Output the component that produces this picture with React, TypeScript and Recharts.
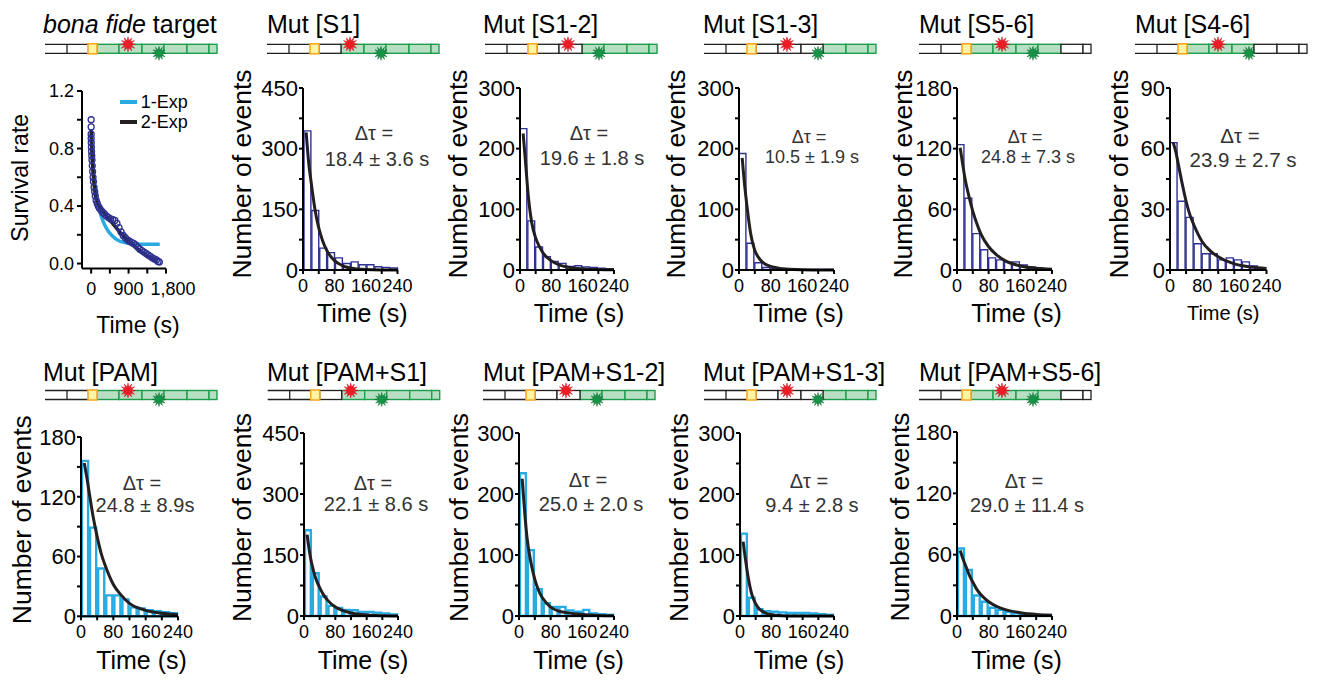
import React from "react";
import { ComposedChart, Bar, Line, Scatter, XAxis, YAxis, Legend } from "recharts";

const FONT = '"Liberation Sans", Arial, Helvetica, sans-serif';
const NAVY = "#2e3192";
const SKY = "#29abe2";
const FIT_COLOR = "#231f20";

// dwell-time histograms: 20 s bins, each value sits on the bin centre
const BIN_T = [10, 30, 50, 70, 90, 110, 130, 150, 170, 190, 210, 230];
const FIT_T = [8, 15, 20, 30, 40, 50, 60, 80, 100, 120, 160, 200, 240];
const HIST_X_TICKS = [0, 40, 80, 120, 160, 200, 240];

const CNT_S1 = [344, 147, 54, 43, 30, 16, 20, 13, 13, 8, 6, 5];
const FIT_S1 = [340, 260, 222, 152, 104, 72, 49, 23, 11, 5, 1, 0.2, 0];
const CNT_S12 = [233, 81, 38, 22, 14, 11, 6, 7, 5, 4, 3, 2];
const FIT_S12 = [225, 171, 130, 78, 53, 38, 27, 15, 8.5, 5, 1.8, 0.7, 0.3];
const CNT_S13 = [192, 44, 12, 4, 2, 1, 1, 1, 1, 1, 1, 1];
const FIT_S13 = [185, 135, 106, 58, 32, 20, 12.5, 6, 3, 1.5, 0.4, 0.1, 0];
const CNT_S56 = [124, 71, 36, 20, 12, 10, 8, 8, 5, 3, 2, 1];
const FIT_S56 = [121, 103, 91, 73, 58, 46, 36, 23, 15, 9.5, 4, 1.7, 0.7];
const CNT_S46 = [63, 34, 26, 13, 8, 8, 5, 6, 5, 4, 2, 1];
const FIT_S46 = [63, 58, 53, 43, 34, 27, 22, 14, 9.5, 6.5, 3, 1.5, 0.8];
const CNT_PAM = [156, 89, 48, 21, 21, 17, 9, 8, 6, 5, 4, 3];
const FIT_PAM = [154, 138, 125, 100, 80, 63, 51, 32, 21, 13, 6, 3, 1.5];
const CNT_PAM_S1 = [211, 105, 48, 25, 20, 15, 14, 10, 10, 8, 6, 4];
const FIT_PAM_S1 = [200, 152, 128, 92, 70, 52, 39, 22, 13, 7.5, 2.5, 0.8, 0.3];
const CNT_PAM_S12 = [234, 108, 44, 21, 15, 15, 9, 7, 10, 4, 3, 2];
const FIT_PAM_S12 = [225, 165, 130, 88, 60, 41, 29, 14.5, 8, 5.5, 2.5, 1, 0.5];
const CNT_PAM_S13 = [135, 30, 11, 8, 7, 6, 5, 5, 5, 4, 3, 2];
const FIT_PAM_S13 = [122, 88, 67, 36, 20, 11, 6.5, 2, 0.7, 0.2, 0, 0, 0];
const CNT_PAM_S56 = [66, 45, 20, 14, 8, 6, 4, 3, 2, 2, 1, 1];
const FIT_PAM_S56 = [64, 56, 51, 41, 33, 26, 21, 14, 9.5, 6.5, 3.2, 1.5, 0.7];

// bona fide target survival curve
const SURV_T = [0, 0, 0, 0, 3, 6, 10, 15, 20, 27, 35, 45, 55, 70, 85, 100, 120, 145, 170, 200, 240, 280, 320, 370, 420, 470, 520, 570, 620, 670, 720, 770, 820, 870, 920, 970, 1020, 1070, 1120, 1170, 1220, 1270, 1320, 1370, 1420, 1470, 1520, 1570, 1610, 1640];
const SURV_Y = [1.0, 0.95, 0.9, 0.87, 0.84, 0.81, 0.78, 0.75, 0.72, 0.68, 0.64, 0.6, 0.57, 0.53, 0.5, 0.47, 0.44, 0.42, 0.4, 0.385, 0.37, 0.355, 0.345, 0.33, 0.32, 0.31, 0.305, 0.3, 0.28, 0.25, 0.22, 0.195, 0.18, 0.165, 0.155, 0.148, 0.14, 0.13, 0.115, 0.1, 0.09, 0.08, 0.07, 0.06, 0.05, 0.04, 0.032, 0.025, 0.015, 0.01];
const EXP1_T = [0, 10, 25, 50, 75, 100, 150, 200, 300, 400, 500, 600, 700, 800, 1000, 1200, 1400, 1650];
const EXP1_Y = [0.9, 0.84, 0.76, 0.66, 0.58, 0.52, 0.43, 0.37, 0.285, 0.23, 0.195, 0.17, 0.155, 0.147, 0.138, 0.135, 0.135, 0.135];
const EXP2_T = [0, 10, 25, 50, 75, 100, 150, 225, 300, 400, 500, 600, 700, 800, 900, 1000, 1100, 1200, 1300, 1400, 1500, 1600];
const EXP2_Y = [0.93, 0.84, 0.74, 0.62, 0.54, 0.48, 0.425, 0.385, 0.355, 0.32, 0.285, 0.25, 0.215, 0.185, 0.155, 0.13, 0.105, 0.085, 0.065, 0.045, 0.03, 0.015];
const SURV_X_TICKS = [0, 450, 900, 1350, 1800];
const SURV_X_LABELS = ["0", "", "900", "", "1,800"];
const SURV_Y_TICKS = [0, 0.2, 0.4, 0.6, 0.8, 1.0, 1.2];

const TITLES = ["Mut [S1]", "Mut [S1-2]", "Mut [S1-3]", "Mut [S5-6]", "Mut [S4-6]", "Mut [PAM]", "Mut [PAM+S1]", "Mut [PAM+S1-2]", "Mut [PAM+S1-3]", "Mut [PAM+S5-6]"];
const DT_TEXT = ["18.4 ± 3.6 s", "19.6 ± 1.8 s", "10.5 ± 1.9 s", "24.8 ± 7.3 s", "23.9 ± 2.7 s", "24.8 ± 8.9s", "22.1 ± 8.6 s", "25.0 ± 2.0 s", "9.4 ± 2.8 s", "29.0 ± 11.4 s"];

const AXIS = { stroke: "#000", strokeWidth: 2 };
const TOP_M = 40;
const RIGHT_M = 40;

interface HistPanel {
  counts: number[]; fit: number[]; color: string; yMax: number;
  x: number; pw: number; top: number; bottom: number;
  yOff: number; yDy: number; xh: number; timeSize: number; labDx: number;
}

const TOP = { top: 88, bottom: 270, yDy: -5, xh: 86, timeSize: 25, labDx: 12, color: NAVY };
const BOT = { bottom: 616, yDy: -7, xh: 88, timeSize: 25, labDx: 12, color: SKY };

const HISTS: HistPanel[] = [
  { ...TOP, counts: CNT_S1, fit: FIT_S1, yMax: 450, x: 303, pw: 94.5, yOff: 61 },
  { ...TOP, counts: CNT_S12, fit: FIT_S12, yMax: 300, x: 520, pw: 94, yOff: 62 },
  { ...TOP, counts: CNT_S13, fit: FIT_S13, yMax: 300, x: 739, pw: 95, yOff: 63 },
  { ...TOP, counts: CNT_S56, fit: FIT_S56, yMax: 180, x: 957, pw: 95, yOff: 54 },
  { ...TOP, counts: CNT_S46, fit: FIT_S46, yMax: 90, x: 1170, pw: 96.5, yOff: 51, xh: 85, timeSize: 20, labDx: 5 },
  { ...BOT, counts: CNT_PAM, fit: FIT_PAM, yMax: 180, x: 81, pw: 97, top: 436.7, yOff: 58.5 },
  { ...BOT, counts: CNT_PAM_S1, fit: FIT_PAM_S1, yMax: 450, x: 304, pw: 94, top: 433, yOff: 62 },
  { ...BOT, counts: CNT_PAM_S12, fit: FIT_PAM_S12, yMax: 300, x: 519, pw: 95, top: 433, yOff: 60 },
  { ...BOT, counts: CNT_PAM_S13, fit: FIT_PAM_S13, yMax: 300, x: 740, pw: 94, top: 433, yOff: 61 },
  { ...BOT, counts: CNT_PAM_S56, fit: FIT_PAM_S56, yMax: 180, x: 957, pw: 95, top: 432, yOff: 57 },
];

// title / schematic / annotation placement, same order as HISTS
const DECOR = [
  { tx: 267, ty: 32.7, sx: 267, sy: 44.3, white: [0], cx: 376, b1: 140, b2: 165.7, fs: 20 },
  { tx: 483, ty: 32.7, sx: 485, sy: 44.3, white: [0, 1], cx: 591, b1: 140, b2: 165, fs: 20 },
  { tx: 703, ty: 32.7, sx: 704, sy: 44.3, white: [0, 1, 2], cx: 811, b1: 142.7, b2: 163.3, fs: 18 },
  { tx: 919, ty: 32.7, sx: 919, sy: 44.3, white: [4, 5], cx: 1027, b1: 143.3, b2: 163.3, fs: 18 },
  { tx: 1135, ty: 32.7, sx: 1135, sy: 44.3, white: [3, 4, 5], cx: 1242, b1: 143.3, b2: 166.7, fs: 20.5 },
  { tx: 43, ty: 380.7, sx: 45, sy: 390.5, white: [], cx: 144, b1: 490, b2: 512.3, fs: 20 },
  { tx: 267, ty: 380.7, sx: 267.7, sy: 390.5, white: [0], cx: 375, b1: 490, b2: 510.7, fs: 20 },
  { tx: 483, ty: 380.7, sx: 483, sy: 390.5, white: [0, 1], cx: 590, b1: 487, b2: 511, fs: 20 },
  { tx: 703, ty: 380.7, sx: 704, sy: 390.5, white: [0, 1, 2], cx: 811, b1: 488, b2: 511.7, fs: 20 },
  { tx: 919, ty: 380.7, sx: 919, sy: 390.5, white: [4, 5], cx: 1026, b1: 488, b2: 511.7, fs: 20 },
];

const SEG_EDGES = [52, 74, 97, 119, 142, 164, 172];

function starPoints(cx: number, cy: number, ro: number, ri: number, n = 12) {
  const pts: string[] = [];
  for (let i = 0; i < n * 2; i++) {
    const r = i % 2 === 0 ? ro : ri;
    const a = (Math.PI * i) / n - Math.PI / 2;
    pts.push(`${(cx + r * Math.cos(a)).toFixed(2)},${(cy + r * Math.sin(a)).toFixed(2)}`);
  }
  return pts.join(" ");
}

function Schematic({ x, y, white }: { x: number; y: number; white: number[] }) {
  const h = 9;
  const yb = y + h;
  const segs = SEG_EDGES.slice(0, -1).map((e, i) => ({ i, x0: e, x1: SEG_EDGES[i + 1] }));
  return (
    <g>
      <line x1={x} y1={y} x2={x + 43} y2={y} stroke="#231f20" strokeWidth={1.3} />
      <line x1={x} y1={yb} x2={x + 43} y2={yb} stroke="#231f20" strokeWidth={1.3} />
      <line x1={x + 22} y1={y} x2={x + 22} y2={yb} stroke="#231f20" strokeWidth={1.3} />
      {segs.filter((s) => !white.includes(s.i)).map((s) => (
        <rect key={s.i} x={x + s.x0} y={y} width={s.x1 - s.x0} height={h}
          fill="#b6dfc3" stroke="#1f9d4a" strokeWidth={1.4} />
      ))}
      {segs.filter((s) => white.includes(s.i)).map((s) => (
        <rect key={s.i} x={x + s.x0} y={y} width={s.x1 - s.x0} height={h}
          fill="#fff" stroke="#231f20" strokeWidth={1.3} />
      ))}
      <rect x={x + 43} y={y - 0.5} width={9} height={h + 1} fill="#fff4a3" stroke="#f7a823" strokeWidth={1.6} />
      <polygon points={starPoints(x + 83, y, 7.5, 3.6)} fill="#ed1c24" stroke="#c3131d" strokeWidth={0.5} />
      <polygon points={starPoints(x + 114, yb, 7, 3.4)} fill="#159347" stroke="#0a6b2e" strokeWidth={0.5} />
    </g>
  );
}

// axis title centred in the axis box, optionally rotated
const axisTitle = (text: string, size: number, dx: number, dy: number, vertical: boolean) =>
  (props: any) => {
    const vb = props.viewBox || { x: 0, y: 0, width: 0, height: 0 };
    const cx = vb.x + vb.width / 2 + dx;
    const cy = vb.y + vb.height / 2 + dy;
    return (
      <text x={cx} y={cy} fontSize={size} fill="#000" textAnchor="middle" dominantBaseline="central"
        transform={vertical ? `rotate(-90 ${cx} ${cy})` : undefined}>
        {text}
      </text>
    );
  };

function Hist({ p }: { p: HistPanel }) {
  const yw = p.yOff * 2;
  const ph = p.bottom - p.top;
  const bin = (p.pw * 20) / 240;
  const bars = BIN_T.map((t, i) => ({ t, n: p.counts[i] }));
  const fit = FIT_T.map((t, i) => ({ t, y: p.fit[i] }));
  const yTicks = [0, 1, 2, 3, 4, 5, 6].map((k) => (k * p.yMax) / 6);
  const thin = p.color === NAVY;
  return (
    <div style={{ position: "absolute", left: p.x - yw, top: p.top - TOP_M }}>
      <ComposedChart
        width={yw + p.pw + RIGHT_M}
        height={TOP_M + ph + p.xh}
        data={bars}
        margin={{ top: TOP_M, right: RIGHT_M, bottom: 0, left: 0 }}
      >
        <XAxis
          dataKey="t" type="number" domain={[0, 240]} ticks={HIST_X_TICKS} interval={0}
          height={p.xh} tickSize={4} tickMargin={5} axisLine={AXIS} tickLine={AXIS}
          tick={{ fontSize: 18, fill: "#000" }}
          tickFormatter={(v: number, i: number) => (i % 2 === 0 ? String(v) : "")}
          label={axisTitle("Time (s)", p.timeSize, p.labDx, 0, false)}
        />
        <XAxis xAxisId="fit" dataKey="t" type="number" domain={[0, 240]} hide />
        <YAxis
          type="number" domain={[0, p.yMax]} ticks={yTicks} interval={0}
          width={yw} tickSize={4} tickMargin={1} axisLine={AXIS} tickLine={AXIS}
          tick={{ fontSize: 22, fill: "#000" }}
          tickFormatter={(v: number, i: number) => (i % 2 === 0 ? String(v) : "")}
          label={axisTitle("Number of events", 26.5, 0, p.yDy, true)}
        />
        <Bar
          dataKey="n" barSize={bin - (thin ? 1 : 2)} fill="#fff" stroke={p.color}
          strokeWidth={thin ? 1.4 : 2.4} isAnimationActive={false}
        />
        <Line
          xAxisId="fit" data={fit} dataKey="y" type="monotone" stroke={FIT_COLOR} strokeWidth={3}
          dot={false} activeDot={false} isAnimationActive={false}
        />
      </ComposedChart>
    </div>
  );
}

const SurvLegend = (props: any) => (
  <div style={{ fontSize: 18, lineHeight: "20px", color: "#000" }}>
    {(props.payload || []).filter((e: any) => e.type !== "none").map((e: any) => (
      <div key={e.value} style={{ display: "flex", alignItems: "center" }}>
        <span style={{ display: "inline-block", width: 17, height: 4, background: e.color, marginRight: 4 }} />
        {e.value}
      </div>
    ))}
  </div>
);

const survXTick = (props: any) => {
  const lab = SURV_X_LABELS[props.index];
  if (!lab) return <g />;
  const shift = props.index === SURV_X_LABELS.length - 1 ? 7 : 0;
  return (
    <text x={props.x + shift} y={props.y} dy="0.71em" textAnchor="middle" fontSize={18} fill="#000">
      {lab}
    </text>
  );
};

function Survival() {
  const axisX = 81.7, top = 90.7, bottom = 268.3, pw = 84, yw = 124, xh = 112;
  const dots = SURV_T.map((t, i) => ({ t, y: SURV_Y[i] }));
  const exp1 = EXP1_T.map((t, i) => ({ t, y: EXP1_Y[i] }));
  const exp2 = EXP2_T.map((t, i) => ({ t, y: EXP2_Y[i] }));
  return (
    <div style={{ position: "absolute", left: axisX - yw, top: top - TOP_M }}>
      <ComposedChart
        width={yw + pw + RIGHT_M} height={TOP_M + (bottom - top) + xh} data={dots}
        margin={{ top: TOP_M, right: RIGHT_M, bottom: 0, left: 0 }}
      >
        <XAxis
          dataKey="t" type="number" domain={[-220, 1800]} ticks={SURV_X_TICKS} interval={0}
          height={xh} tickSize={5} tickMargin={9} axisLine={AXIS} tickLine={AXIS} tick={survXTick}
          label={axisTitle("Time (s)", 23, 14, 0, false)}
        />
        <YAxis
          type="number" domain={[-0.035, 1.2]} ticks={SURV_Y_TICKS} interval={0}
          width={yw} tickSize={5} tickMargin={3} axisLine={AXIS} tickLine={AXIS}
          tick={{ fontSize: 18, fill: "#000" }}
          tickFormatter={(v: number, i: number) => (i % 2 === 0 ? v.toFixed(1) : "")}
          label={axisTitle("Survival rate", 23, 0, -2, true)}
        />
        <Scatter
          data={dots} dataKey="y" legendType="none" isAnimationActive={false}
          shape={(s: any) => <circle cx={s.cx} cy={s.cy} r={3} fill="none" stroke={NAVY} strokeWidth={1.3} />}
        />
        <Line data={exp1} dataKey="y" name="1-Exp" type="monotone" stroke={SKY} strokeWidth={3.5}
          dot={false} activeDot={false} isAnimationActive={false} />
        <Line data={exp2} dataKey="y" name="2-Exp" type="monotone" stroke={FIT_COLOR} strokeWidth={3.5}
          dot={false} activeDot={false} isAnimationActive={false} />
        <Legend
          layout="horizontal" verticalAlign="middle" align="center" content={SurvLegend}
          wrapperStyle={{ left: 162, top: TOP_M + 1, width: 80, height: 40 }}
        />
      </ComposedChart>
    </div>
  );
}

export default function App() {
  return (
    <div style={{ position: "absolute", left: 0, top: 0, width: 1318, height: 684, background: "#fff", fontFamily: FONT, overflow: "hidden" }}>
      <Survival />
      {HISTS.map((p, i) => <Hist key={i} p={p} />)}
      <svg width={1318} height={684} style={{ position: "absolute", left: 0, top: 0, pointerEvents: "none" }}>
        <text x={43} y={32.7} fontSize={25} fill="#000">
          <tspan fontStyle="italic">bona fide</tspan> target
        </text>
        <Schematic x={45} y={44.3} white={[]} />
        {DECOR.map((d, i) => (
          <g key={i}>
            <text x={d.tx} y={d.ty} fontSize={25} fill="#000">{TITLES[i]}</text>
            <Schematic x={d.sx} y={d.sy} white={d.white} />
            <text x={d.cx - 2} y={d.b1} fontSize={d.fs} fill="#333" textAnchor="middle">Δτ =</text>
            <text x={d.cx + 1} y={d.b2} fontSize={d.fs} fill="#333" textAnchor="middle">{DT_TEXT[i]}</text>
          </g>
        ))}
      </svg>
    </div>
  );
}
